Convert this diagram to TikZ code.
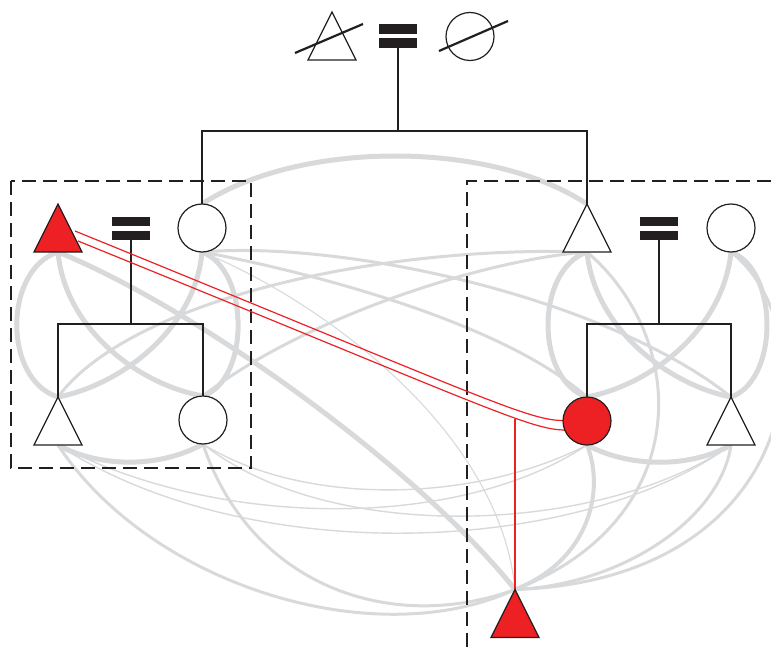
\documentclass[tikz,border=0pt]{standalone}
\usetikzlibrary{calc}
\definecolor{pedred}{RGB}{237,32,36}
\definecolor{linkgray}{RGB}{216,217,219}
\definecolor{inkblack}{RGB}{35,31,32}
\pgfdeclarelayer{links}
\pgfdeclarelayer{lines}
\pgfsetlayers{links,lines,main}
\begin{document}
\begin{tikzpicture}[x=1pt,y=-1pt,
  circ/.style={circle, draw=inkblack, line width=1.2pt, fill=white, minimum size=48pt, inner sep=0pt, outer sep=0pt},
  tribox/.style={minimum width=48pt, minimum height=48pt, inner sep=0pt, outer sep=0pt},
  trishape/.style={draw=inkblack, line width=1.2pt, fill=white, line join=miter},
  barnode/.style={fill=inkblack, minimum width=38pt, minimum height=9.5pt, inner sep=0pt, outer sep=0pt},
  ped/.style={draw=inkblack, line width=1.8pt},
  slash/.style={draw=inkblack, line width=2.2pt},
  dashbox/.style={draw=inkblack, line width=2.2pt, dash pattern=on 14pt off 7pt},
  lkA/.style={draw=linkgray, line width=5pt},
  lkB/.style={draw=linkgray, line width=3pt},
  lkC/.style={draw=linkgray, line width=1.4pt},
  lkD/.style={draw=linkgray, line width=1.1pt},
  redline/.style={draw=pedred, line width=1.2pt},
  redstem/.style={draw=pedred, line width=1.6pt}
]
\useasboundingbox (0,0) rectangle (771,658);

% ---------- individuals ----------
\node[tribox] (GF) at (332,36) {};
\node[circ] (GM) at (470,36.5) {};
\node[barnode, minimum height=10pt] (m0a) at (398,29) {};
\node[barnode, minimum height=10pt] (m0b) at (398,43) {};

\node[tribox] (A) at (58,228) {};
\node[circ] (B) at (202,228) {};
\node[barnode] (m1a) at (131,221.5) {};
\node[barnode] (m1b) at (131,235.5) {};
\node[tribox] (C) at (58,421) {};
\node[circ] (D) at (203,420) {};

\node[tribox] (E) at (587,228) {};
\node[circ] (F) at (731,228) {};
\node[barnode] (m2a) at (659,221.5) {};
\node[barnode] (m2b) at (659,235.5) {};
\node[circ, fill=pedred] (G) at (587,421) {};
\node[tribox] (H) at (731,421) {};

\node[tribox] (I) at (515,613.5) {};

\coordinate (j0) at (398,131);
\coordinate (j1) at (131,324);
\coordinate (j2) at (659,324);
\coordinate (jn) at (515,419);

% triangles
\draw[trishape] (GF.north) -- (GF.south east) -- (GF.south west) -- cycle;
\draw[trishape, fill=pedred] (A.north) -- (A.south east) -- (A.south west) -- cycle;
\draw[trishape] (C.north) -- (C.south east) -- (C.south west) -- cycle;
\draw[trishape] (E.north) -- (E.south east) -- (E.south west) -- cycle;
\draw[trishape] (H.north) -- (H.south east) -- (H.south west) -- cycle;
\draw[trishape, fill=pedred] (I.north) -- (I.south east) -- (I.south west) -- cycle;

% deceased slashes
\draw[slash] (295,53) -- (363,24);
\draw[slash] (439,51) -- (508,21);

% ---------- pedigree lines ----------
\begin{pgfonlayer}{lines}
\draw[dashbox] (11,181) rectangle (251,468);
\draw[dashbox] (771,181) -- (467,181) -- (467,652);

\draw[ped] (m0b.south) -- (j0);
\draw[ped] (B.north) -- (B.north |- j0) -- (E.north |- j0) -- (E.north);
\draw[ped] (m1b.south) -- (j1);
\draw[ped] (C.north) -- (C.north |- j1) -- (D.north |- j1) -- (D.north);
\draw[ped] (m2b.south) -- (j2);
\draw[ped] (G.north) -- (G.north |- j2) -- (H.north |- j2) -- (H.north);

% consanguineous union A = G and child I
\draw[redline] (75,231) .. controls (480,396) and (528,420.5) .. (G.west |- 0,420.5);
\draw[redline] (78,241) .. controls (482,405) and (530,430) .. (565,430);
\draw[redstem] (jn) -- (I.north);
\end{pgfonlayer}

% ---------- relationship links ----------
\begin{pgfonlayer}{links}
% strong links
\draw[lkA] (B.north) .. controls (300,140) and (490,140) .. (E.north);
\draw[lkA] (A.south) .. controls (3,270) and (3,380) .. (C.north);
\draw[lkA] (B.south) .. controls (250,270) and (250,380) .. (D.north);
\draw[lkA] (A.south) .. controls (65,330) and (140,385) .. (D.north);
\draw[lkA] (B.south) .. controls (195,330) and (120,385) .. (C.north);
\draw[lkA] (C.south) .. controls (100,468) and (160,468) .. (D.south);
\draw[lkA] (E.south) .. controls (535,270) and (535,380) .. (G.north);
\draw[lkA] (F.south) .. controls (779,270) and (779,380) .. (H.north);
\draw[lkA] (E.south) .. controls (595,330) and (670,385) .. (H.north);
\draw[lkA] (F.south) .. controls (723,330) and (650,385) .. (G.north);
\draw[lkA] (G.south) .. controls (630,468) and (690,468) .. (H.south);
\draw[lkA] (A.south) .. controls (200,310) and (420,470) .. (I.north);
\draw[lkA, line width=4pt] (G.south) .. controls (605,490) and (590,560) .. (I.north);
% medium links
\draw[lkB] (C.south) .. controls (150,585) and (375,655) .. (I.north);
\draw[lkB] (D.south) .. controls (250,585) and (390,635) .. (I.north);
\draw[lkB] (E.south) .. controls (690,340) and (695,520) .. (I.north);
\draw[lkB] (F.south) .. controls (830,330) and (800,580) .. (I.north);
\draw[lkB] (H.south) .. controls (720,520) and (620,585) .. (I.north);
\draw[lkB] (B.south) .. controls (350,240) and (610,300) .. (H.north);
\draw[lkB] (B.south) .. controls (300,270) and (500,320) .. (G.north);
\draw[lkB] (C.north) .. controls (130,300) and (380,245) .. (E.south);
\draw[lkB] (D.north) .. controls (300,320) and (480,260) .. (E.south);
% weak links
\draw[lkD] (B.south) .. controls (320,300) and (500,430) .. (I.north);
\draw[lkC] (D.south) .. controls (300,505) and (470,505) .. (G.south);
\draw[lkC] (C.south) .. controls (220,530) and (460,530) .. (G.south);
\draw[lkC] (D.south) .. controls (330,545) and (600,535) .. (H.south);
\draw[lkC] (C.south) .. controls (250,570) and (580,555) .. (H.south);
\end{pgfonlayer}
\end{tikzpicture}
\end{document}
